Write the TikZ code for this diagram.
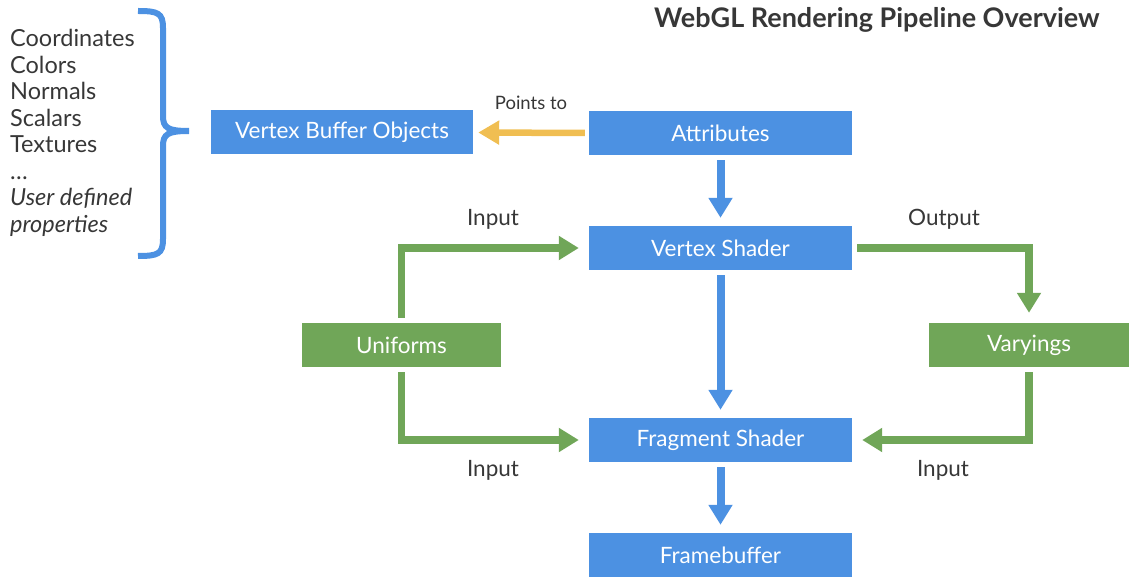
\documentclass[tikz,border=0pt]{standalone}
\usepackage{fontspec}
\setmainfont{Lato}
\usetikzlibrary{arrows.meta}
\definecolor{bblue}{RGB}{76,145,226}
\definecolor{bgreen}{RGB}{112,166,88}
\definecolor{byellow}{RGB}{240,190,82}
\definecolor{tgrey}{RGB}{55,55,55}
\tikzset{
  box/.style={inner sep=0pt, minimum height=44pt, text=white, font=\fontsize{22.5}{26}\selectfont},
  bluebox/.style={box, fill=bblue, minimum width=263pt},
  greenbox/.style={box, fill=bgreen, minimum width=200pt},
  lbl/.style={text=tgrey, font=\fontsize{22.5}{26}\selectfont, inner sep=0pt},
  listtxt/.style={text=tgrey, font=\fontsize{23.5}{27}\selectfont, inner sep=0pt, anchor=base west},
  barrow/.style={draw=bblue, line width=8pt, -{Triangle[width=23pt,length=20pt]}},
  garrow/.style={draw=bgreen, line width=7.5pt, -{Triangle[width=23pt,length=20pt]}},
  yarrow/.style={draw=byellow, line width=6.5pt, -{Triangle[width=23pt,length=21pt]}},
}
\begin{document}
\begin{tikzpicture}[x=1pt,y=-1pt]
\useasboundingbox (0,0) rectangle (1129,577);
% title
\node[text=tgrey, font=\fontsize{27}{30}\selectfont\bfseries, inner sep=0pt] (title) at (877,20) {WebGL Rendering Pipeline Overview};
% list
\node[listtxt] (l1) at (10,47) {Coordinates};
\node[listtxt] (l2) at (10,73.5) {Colors};
\node[listtxt] (l3) at (10,100) {Normals};
\node[listtxt] (l4) at (10,126.5) {Scalars};
\node[listtxt] (l5) at (10,153) {Textures};
\node[listtxt] (l6) at (10,179.5) {\ldots};
\node[listtxt] (l7) at (10,206) {\itshape User defined};
\node[listtxt] (l8) at (10,232.5) {\itshape properties};
% brace
\draw[bblue, line width=6pt] (138,11) .. controls (158,11) and (163,13) .. (163,28) -- (163,116) .. controls (163,128) and (168,131) .. (189,131);
\draw[bblue, line width=6pt] (138,256) .. controls (158,256) and (163,254) .. (163,239) -- (163,146) .. controls (163,134) and (168,131) .. (189,131);
% boxes
\node[bluebox, minimum width=262pt] (vbo) at (342,132.5) {Vertex Buffer Objects};
\node[bluebox] (attr) at (720.5,133) {Attributes};
\node[bluebox] (vs) at (720.5,248) {Vertex Shader};
\node[greenbox, minimum width=199pt] (uni) at (401.5,345) {Uniforms};
\node[greenbox] (var) at (1029,345) {Varyings};
\node[bluebox] (fs) at (720.5,440) {Fragment Shader};
\node[bluebox] (fb) at (720.5,555) {Framebuffer};
% arrows
\draw[yarrow, shorten <=4pt, shorten >=5pt] (attr.west) -- (vbo.east);
\draw[barrow, shorten <=5pt, shorten >=8pt] (attr.south) -- (vs.north);
\draw[barrow, shorten <=5pt, shorten >=8pt] (vs.south) -- (fs.north);
\draw[barrow, shorten <=5pt, shorten >=8pt] (fs.south) -- (fb.north);
\draw[garrow, shorten <=5pt, shorten >=10pt] (uni.north) |- (vs.west);
\draw[garrow, shorten <=5pt, shorten >=10pt] (uni.south) |- (fs.west);
\draw[garrow, shorten <=5pt, shorten >=10pt] (vs.east) -| (var.north);
\draw[garrow, shorten <=5pt, shorten >=10pt] (var.south) |- (fs.east);
% labels
\node[lbl, font=\fontsize{18.5}{22}\selectfont] (pt) at (531,103) {Points to};
\node[lbl] (in1) at (493,219) {Input};
\node[lbl] (out1) at (944,219) {Output};
\node[lbl] (in2) at (493,470) {Input};
\node[lbl] (in3) at (943,470) {Input};
\end{tikzpicture}
\end{document}
